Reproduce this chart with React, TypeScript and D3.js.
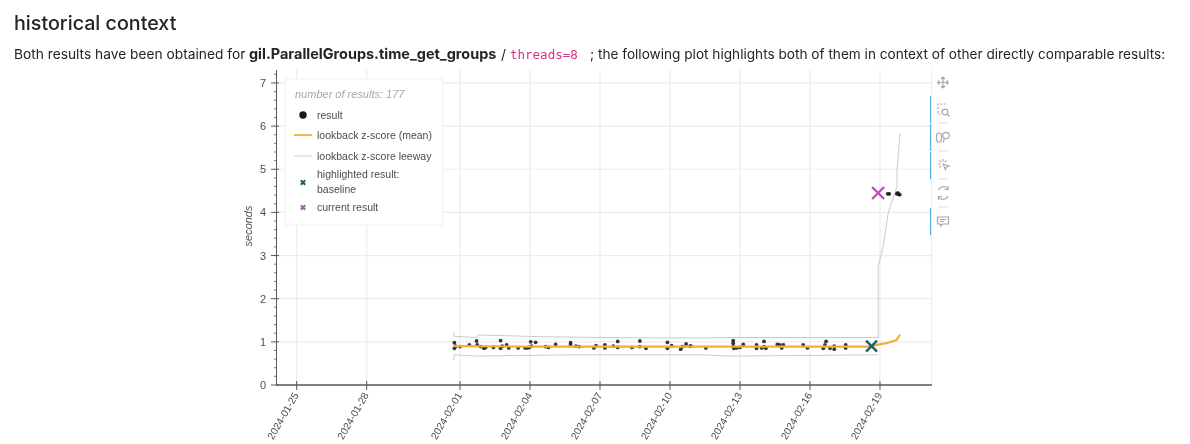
import React from "react";
import * as d3 from "d3";

const baseDate = Date.UTC(2024, 1, 1);
const DAY = 86400000;
const dayToDate = (d: number) => new Date(baseDate + d * DAY);

const tickLabels = ["2024-01-25", "2024-01-28", "2024-02-01", "2024-02-04", "2024-02-07", "2024-02-10", "2024-02-13", "2024-02-16", "2024-02-19"];
const yTicks = [0, 1, 2, 3, 4, 5, 6, 7];

// [days since 2024-02-01, seconds]
const results: [number, number][] = [
  [-0.24, 0.98], [-0.24, 0.85], [-0.19, 0.9], [0, 0.89], [0.4, 0.93], [0.71, 1.02], [0.74, 0.93], [0.89, 0.89], [1.03, 0.85], [1.1, 0.87],
  [1.43, 0.87], [1.74, 1.03], [1.74, 0.85], [1.81, 0.9], [2.0, 0.93], [2.09, 0.86], [2.49, 0.86], [2.79, 0.86], [2.89, 0.86], [2.97, 0.87],
  [3.03, 1.0], [3.07, 0.9], [3.24, 0.99], [3.66, 0.89], [3.79, 0.87], [4.1, 0.94], [4.74, 0.98], [4.74, 0.93], [4.97, 0.9], [5.11, 0.89],
  [5.74, 0.86], [5.83, 0.91], [6.21, 0.93], [6.21, 0.86], [6.57, 0.9], [6.76, 1.01], [6.76, 0.87], [7.37, 0.87], [7.71, 1.02], [7.71, 0.89],
  [7.97, 0.85], [8.89, 0.99], [8.89, 0.85], [9.07, 0.91], [9.46, 0.83], [9.54, 0.89], [9.69, 0.95], [9.86, 0.9], [9.9, 0.9], [10.54, 0.86],
  [11.71, 1.03], [11.71, 0.97], [11.71, 0.9], [11.74, 0.85], [11.86, 0.86], [12.0, 0.87], [12.14, 0.94], [12.71, 0.93], [12.71, 0.85], [12.93, 0.86],
  [13.03, 1.01], [13.03, 0.89], [13.11, 0.85], [13.6, 0.94], [13.71, 0.93], [13.86, 0.93], [13.79, 0.86], [14.71, 0.93], [14.89, 0.86], [15.69, 1.01],
  [15.64, 0.93], [15.57, 0.85], [15.86, 0.85], [16.04, 0.9], [16.04, 0.83], [16.53, 0.93], [16.53, 0.86],
  [18.33, 4.43], [18.4, 4.43], [18.72, 4.43], [18.76, 4.45], [18.8, 4.42], [18.85, 4.41],
];
const meanLine: [number, number][] = [[-0.3, 0.9], [3, 0.89], [8, 0.89], [13, 0.89], [17.6, 0.89], [17.86, 0.93], [18.29, 0.97], [18.71, 1.04], [18.86, 1.17]];
const upperLine: [number, number][] = [[-0.27, 1.24], [-0.25, 1.13], [0.71, 1.1], [0.78, 1.16], [3.4, 1.12], [6.3, 1.1], [9.9, 1.09], [11.7, 1.1], [17, 1.1], [17.92, 1.1], [17.92, 2.74], [18.13, 3.2], [18.35, 3.99], [18.56, 4.33], [18.73, 4.6], [18.73, 4.98], [18.86, 5.84]];
const lowerLine: [number, number][] = [[-0.27, 0.58], [-0.25, 0.7], [0.71, 0.67], [4.9, 0.7], [10.3, 0.7], [11.7, 0.67], [17.92, 0.7]];
const baselinePoint: [number, number] = [17.64, 0.9];
const currentPoint: [number, number] = [17.92, 4.45];

const resultCount = 177;
const legendLabels = ["result", "lookback z-score (mean)", "lookback z-score leeway", "highlighted result:", "baseline", "current result"];

const SANS = "'Liberation Sans', Arial, sans-serif";
const GRID = "#ececec";
const AXIS = "#5a5a5a";
const TEXT = "#4d4d4d";
const INK = "#212529";

const x = d3.scaleUtc().domain([dayToDate(-7.886), dayToDate(20.23)]).range([276, 932]);
const y = d3.scaleLinear().domain([0, 7.3]).range([385, 70]);
const X = (d: number) => x(dayToDate(d));
const lineGen = d3.line<[number, number]>().x((p) => X(p[0])).y((p) => y(p[1]));
const minor = d3.range(0, 7.3, 0.2).filter((v) => Math.abs(v - Math.round(v)) > 0.01);

const Cross = ({ cx, cy, r, color, w }: { cx: number; cy: number; r: number; color: string; w: number }) => (
  <path d={`M${cx - r},${cy - r}L${cx + r},${cy + r}M${cx - r},${cy + r}L${cx + r},${cy - r}`} stroke={color} strokeWidth={w} fill="none" />
);

const toolbarBlue = [[96, 123], [124, 151], [152, 179], [208, 235]];
const toolbarSep = [123, 151, 179, 207];

export default function App() {
  return (
    <svg width={1190} height={444} style={{ position: "absolute", left: 0, top: 0, filter: "blur(0.35px)" }} fontFamily={SANS}>
      <rect width={1190} height={444} fill="#fff" />
      <text x={14} y={30} fontSize={19.7} fill={INK} fontFamily="Inter, sans-serif" fontWeight={500}>historical context</text>
      <text y={59} fontSize={13.75} fill={INK} fontFamily="Inter, sans-serif">
        <tspan x={14}>Both results have been obtained for</tspan>
        <tspan x={249} fontWeight={700} fontSize={14.45}>gil.ParallelGroups.time_get_groups</tspan>
        <tspan x={501}>/</tspan>
        <tspan x={510} fontFamily="'DejaVu Sans Mono', monospace" fontSize={12.5} fill="#d63384">threads=8</tspan>
        <tspan x={590} fontSize={13.64}>; the following plot highlights both of them in context of other directly comparable results:</tspan>
      </text>

      {yTicks.map((t) => <line key={t} x1={276} x2={932} y1={y(t)} y2={y(t)} stroke={GRID} strokeWidth={1.2} />)}
      {tickLabels.map((t) => {
        const px = x(new Date(t + "T00:00:00Z"));
        return <line key={t} x1={px} x2={px} y1={70} y2={385} stroke={GRID} strokeWidth={1.2} />;
      })}
      <line x1={931.5} x2={931.5} y1={70} y2={385} stroke={GRID} />

      <path d={lineGen(upperLine)!} fill="none" stroke="#cbcbcb" strokeWidth={1} />
      <path d={lineGen(lowerLine)!} fill="none" stroke="#cbcbcb" strokeWidth={1} />
      {results.map((p, i) => <circle key={i} cx={X(p[0])} cy={y(p[1])} r={1.9} fill="#1a1a1a" opacity={0.88} />)}
      <path d={lineGen(meanLine)!} fill="none" stroke="#f3ae35" strokeWidth={2.1} />
      <Cross cx={X(baselinePoint[0])} cy={y(baselinePoint[1])} r={5.5} color="#1f5f63" w={2.4} />
      <Cross cx={X(currentPoint[0])} cy={y(currentPoint[1])} r={6} color="#b452bd" w={2.4} />

      <line x1={276.5} x2={276.5} y1={70} y2={385} stroke={AXIS} strokeWidth={1} />
      <line x1={276} x2={932} y1={385} y2={385} stroke={AXIS} strokeWidth={1.3} />
      {yTicks.map((t) => <line key={t} x1={271} x2={279} y1={y(t)} y2={y(t)} stroke={AXIS} />)}
      {minor.map((t) => <line key={t} x1={274} x2={277} y1={y(t)} y2={y(t)} stroke={AXIS} strokeWidth={0.8} />)}
      {yTicks.map((t) => <text key={t} x={266} y={y(t) + 4} textAnchor="end" fontSize={11} fill={TEXT}>{t}</text>)}
      <text transform="translate(252,226) rotate(-90)" textAnchor="middle" fontSize={11} fontStyle="italic" fill={TEXT}>seconds</text>
      {tickLabels.map((t) => {
        const px = x(new Date(t + "T00:00:00Z"));
        return (
          <g key={t}>
            <line x1={px} x2={px} y1={381} y2={390} stroke={AXIS} />
            <text transform={`translate(${px + 2.5},395) rotate(-60)`} textAnchor="end" fontSize={10.2} fill={TEXT}>{t}</text>
          </g>
        );
      })}

      <rect x={285} y={79} width={158} height={146} fill="#fff" stroke="#f0f0f0" />
      <text x={295} y={98} fontSize={11} fontStyle="italic" fill="#a8a8a8">{`number of results: ${resultCount}`}</text>
      <circle cx={303} cy={115} r={3.7} fill="#1a1a1a" />
      <line x1={294} x2={312} y1={135} y2={135} stroke="#f3ae35" strokeWidth={1.8} />
      <line x1={294} x2={312} y1={156} y2={156} stroke="#cfcfcf" strokeWidth={1} />
      <Cross cx={303} cy={182.5} r={2.2} color="#1f5f63" w={2} />
      <Cross cx={303} cy={207.5} r={2.2} color="#b452bd" w={2} />
      {[119, 139, 160, 178, 193, 211].map((ty, i) => (
        <text key={i} x={317} y={ty} fontSize={10.5} fill={TEXT}>{legendLabels[i]}</text>
      ))}

      {toolbarBlue.map(([a, b], i) => <line key={i} x1={930.5} x2={930.5} y1={a} y2={b} stroke="#5cb3ea" strokeWidth={1.2} />)}
      {toolbarSep.map((s, i) => <line key={i} x1={938} x2={948} y1={s} y2={s} stroke="#ddd" />)}
      <g stroke="#a9a9a9" fill="none" strokeWidth={1.2}>
        <path d="M943,77V88M937.5,82.5H948.5M943,77l-2,2M943,77l2,2M943,88l-2,-2M943,88l2,-2M937.5,82.5l2,-2M937.5,82.5l2,2M948.5,82.5l-2,-2M948.5,82.5l-2,2" />
        <path d="M938,109V104H947M938,111V114H941" strokeDasharray="2 1.5" />
        <circle cx={945} cy={112} r={2.8} />
        <path d="M947,114l2.5,2.5" />
        <rect x={936.5} y={133} width={5} height={9} rx={2.5} />
        <circle cx={946} cy={135.5} r={3.2} />
        <path d="M944.5,138.5L943,142.5" />
        <path d="M943,159v2.5M938,164h2.5M939.5,160.5l1.7,1.7M946.5,160.5l-1.7,1.7M939.5,167.5l1.7,-1.7" />
        <path d="M943,164l6,2l-2.5,1l-1,2.5z" />
        <path d="M938.5,190a5.5,5.5 0 0 1 9.5,-1M948,196a5.5,5.5 0 0 1 -9.5,1" />
        <path d="M948,186v3.5h-3.5M938.5,200v-3.5h3.5" />
        <path d="M937.5,217h11v7h-6l-2,2v-2h-3z" />
        <path d="M940,219.5h6M940,221.5h4" />
      </g>
    </svg>
  );
}
